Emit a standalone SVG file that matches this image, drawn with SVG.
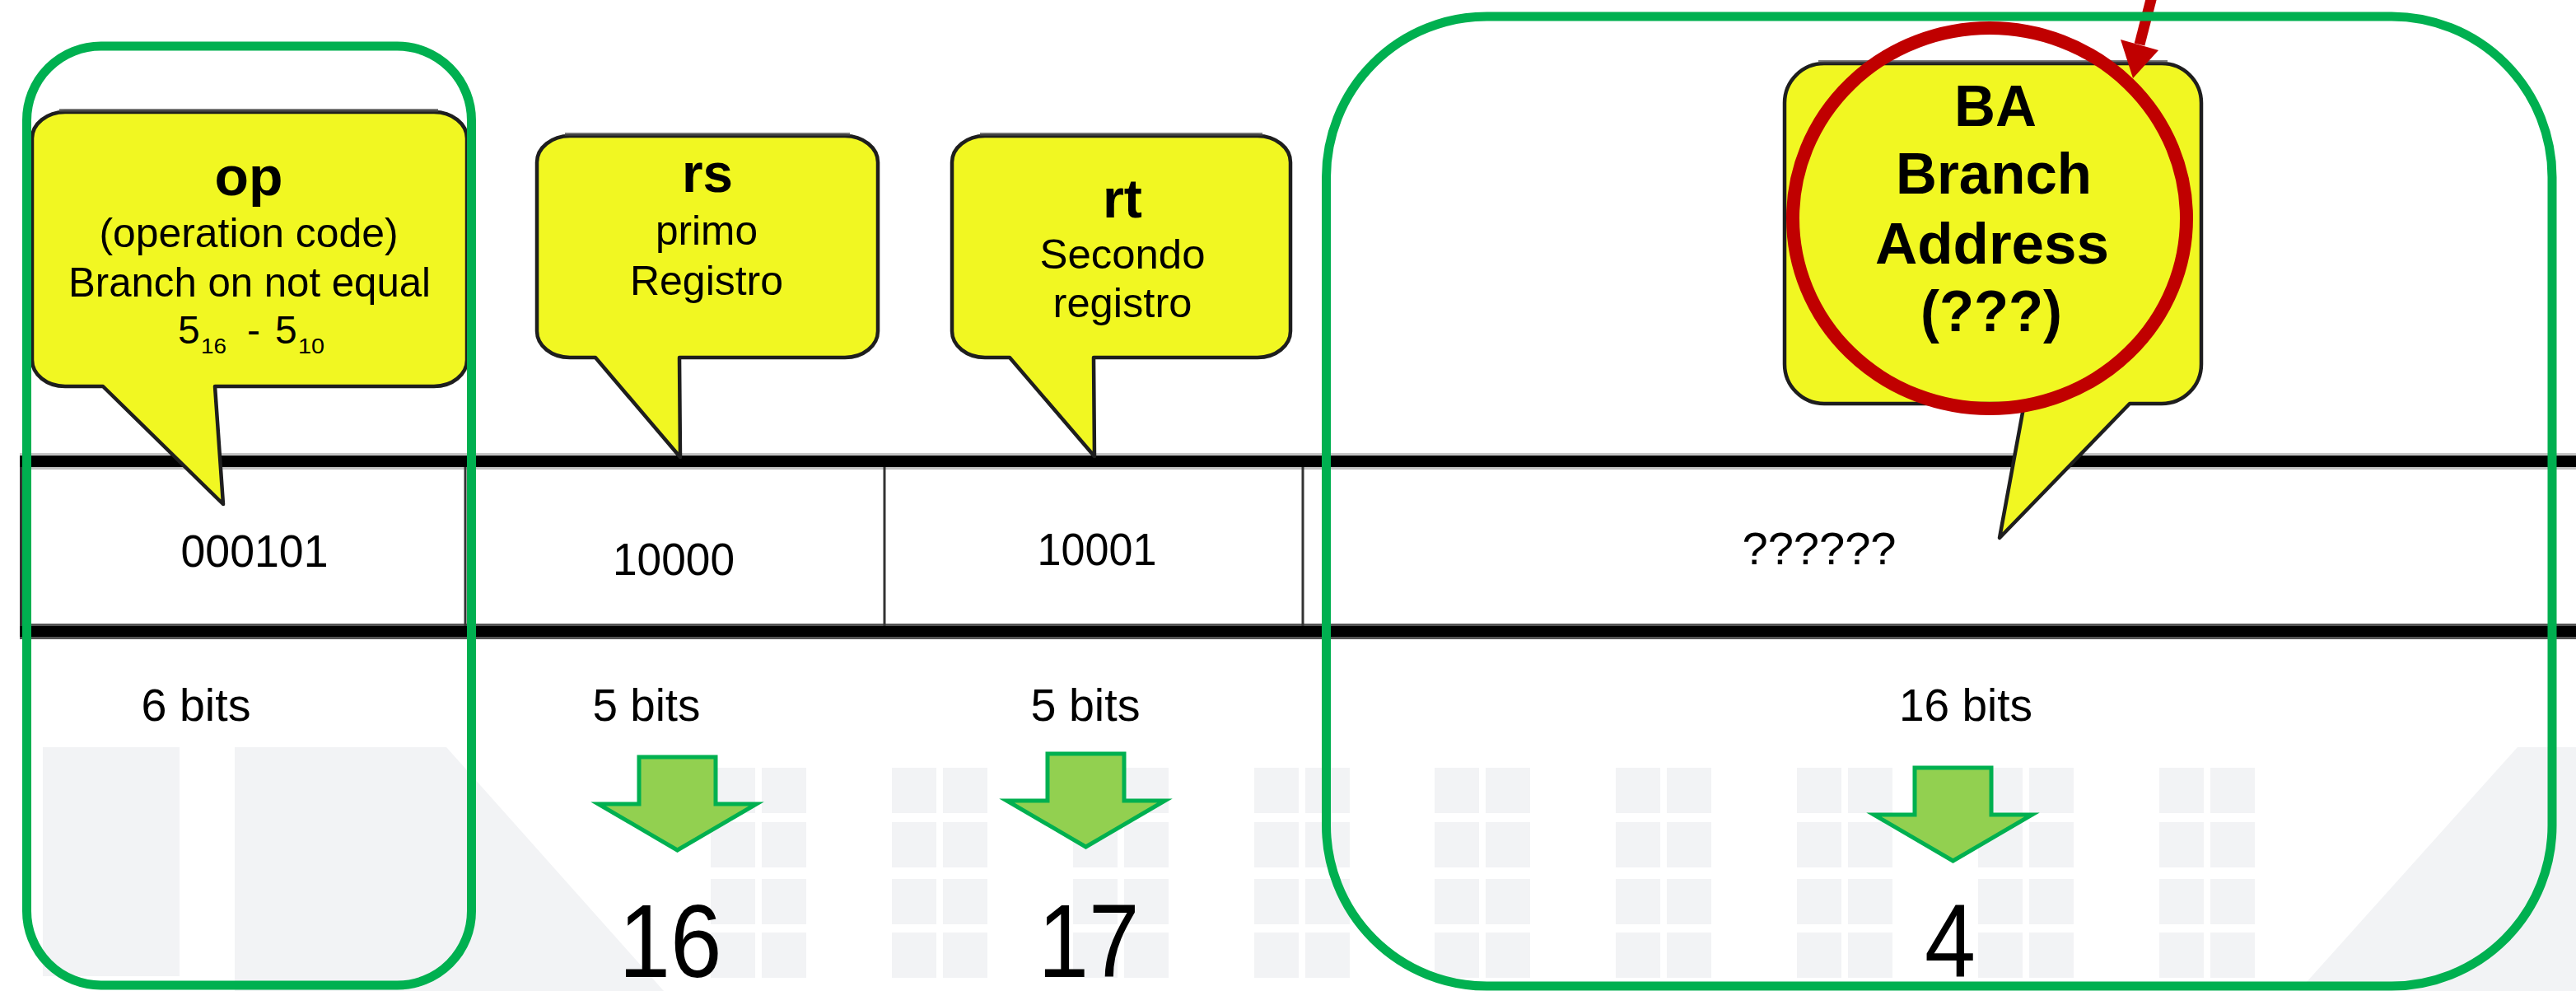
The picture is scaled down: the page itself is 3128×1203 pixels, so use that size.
<svg xmlns="http://www.w3.org/2000/svg" xmlns:xlink="http://www.w3.org/1999/xlink" width="3128" height="1203" viewBox="0 0 3128 1203">
<style>
text{font-family:"Liberation Sans",Arial,sans-serif;fill:#000}
.t{font-size:56px;text-anchor:middle}
.big{font-size:127px;text-anchor:middle}
.cb{font-size:50px;text-anchor:middle}
.hb{font-size:66px;font-weight:bold;text-anchor:middle}
.ba{font-size:71px;font-weight:bold;text-anchor:middle}
.bg{fill:#F2F3F5}
.callout{fill:#F1F722;stroke:#1E1E1E;stroke-width:4.5;stroke-linejoin:round}
.shadow{fill:none;stroke:#444;stroke-width:4;opacity:0.7}
.garrow{fill:#92D050;stroke:#00B050;stroke-width:5}
.gbox{fill:none;stroke:#00B050;stroke-width:11}
.div{stroke:#333;stroke-width:3}
</style>
<defs>
<g id="sq">
<rect class="bg" x="0" y="932" width="54" height="55"/><rect class="bg" x="62" y="932" width="54" height="55"/>
<rect class="bg" x="0" y="998" width="54" height="55"/><rect class="bg" x="62" y="998" width="54" height="55"/>
<rect class="bg" x="0" y="1067" width="54" height="55"/><rect class="bg" x="62" y="1067" width="54" height="55"/>
<rect class="bg" x="0" y="1132" width="54" height="55"/><rect class="bg" x="62" y="1132" width="54" height="55"/>
</g>
<path id="arr" class="garrow" d="M-46.5,0 H46.5 V57 H96 L0,113 L-96,57 H-46.5 Z"/>
</defs>
<rect width="3128" height="1203" fill="#fff"/>
<g id="background">
<rect class="bg" x="52" y="907" width="166" height="278"/>
<polygon class="bg" points="285,907 542,907 806,1203 285,1203"/>
<polygon class="bg" points="3057,907 3128,907 3128,1203 2791,1203"/>
<use xlink:href="#sq" x="863"/><use xlink:href="#sq" x="1083"/><use xlink:href="#sq" x="1303"/>
<use xlink:href="#sq" x="1523"/><use xlink:href="#sq" x="1742"/><use xlink:href="#sq" x="1962"/>
<use xlink:href="#sq" x="2182"/><use xlink:href="#sq" x="2402"/><use xlink:href="#sq" x="2622"/>
</g>
<g id="table">
<rect x="24" y="550" width="3104" height="3" fill="#C4C4C4"/>
<rect x="24" y="567" width="3104" height="3" fill="#C4C4C4"/>
<rect x="24" y="757" width="3104" height="3" fill="#555"/>
<rect x="24" y="773" width="3104" height="3" fill="#555"/>
<line x1="565" y1="567" x2="565" y2="760" class="div"/>
<line x1="1074" y1="567" x2="1074" y2="760" class="div"/>
<line x1="1582" y1="567" x2="1582" y2="760" class="div"/>
<line x1="26" y1="553" x2="26" y2="773" stroke="#333" stroke-width="4"/>
<rect x="24" y="553" width="3104" height="14" fill="#000"/>
<rect x="24" y="760" width="3104" height="13" fill="#000"/>
<text class="t" x="309" y="688" textLength="179" lengthAdjust="spacingAndGlyphs">000101</text>
<text class="t" x="818" y="698" textLength="148" lengthAdjust="spacingAndGlyphs">10000</text>
<text class="t" x="1332" y="686" textLength="145" lengthAdjust="spacingAndGlyphs">10001</text>
<text class="t" x="2209" y="685" textLength="187" lengthAdjust="spacingAndGlyphs">??????</text>
<text class="t" x="238" y="875" textLength="133" lengthAdjust="spacingAndGlyphs">6 bits</text>
<text class="t" x="785" y="875" textLength="131" lengthAdjust="spacingAndGlyphs">5 bits</text>
<text class="t" x="1318" y="875" textLength="133" lengthAdjust="spacingAndGlyphs">5 bits</text>
<text class="t" x="2387" y="875" textLength="162" lengthAdjust="spacingAndGlyphs">16 bits</text>
</g>
<g id="results">
<use xlink:href="#arr" x="822.5" y="919"/>
<use xlink:href="#arr" x="1318.5" y="915"/>
<use xlink:href="#arr" x="2371.5" y="932"/>
<text class="big" x="814" y="1186" textLength="125" lengthAdjust="spacingAndGlyphs">16</text>
<text class="big" x="1322" y="1186" textLength="123" lengthAdjust="spacingAndGlyphs">17</text>
<text class="big" x="2368" y="1186" textLength="62" lengthAdjust="spacingAndGlyphs">4</text>
</g>
<g id="callout-op">
<path class="callout" d="M79,136 H527 A40,32 0 0 1 567,168 V437 A40,32 0 0 1 527,469 H261 L271,612 L125,469 H79 A40,32 0 0 1 39,437 V168 A40,32 0 0 1 79,136 Z"/>
<path class="shadow" d="M72,134 H532"/>
<text class="hb" x="302" y="237" textLength="83" lengthAdjust="spacingAndGlyphs">op</text>
<text class="cb" x="302" y="300" textLength="363" lengthAdjust="spacingAndGlyphs">(operation code)</text>
<text class="cb" x="303" y="360" textLength="440" lengthAdjust="spacingAndGlyphs">Branch on not equal</text>
<text style="font-size:48px" x="216" y="417">5</text>
<text style="font-size:26px" x="244" y="429" textLength="31" lengthAdjust="spacingAndGlyphs">16</text>
<text style="font-size:48px" x="300" y="417">-</text>
<text style="font-size:48px" x="334" y="417">5</text>
<text style="font-size:26px" x="362" y="429" textLength="32" lengthAdjust="spacingAndGlyphs">10</text>
</g>
<g id="callout-rs">
<path class="callout" d="M692,165 H1026 A40,32 0 0 1 1066,197 V402 A40,32 0 0 1 1026,434 H825 L826,555 L723,434 H692 A40,32 0 0 1 652,402 V197 A40,32 0 0 1 692,165 Z"/>
<path class="shadow" d="M686,163 H1032"/>
<text class="hb" x="859" y="233" textLength="62" lengthAdjust="spacingAndGlyphs">rs</text>
<text class="cb" x="858" y="297" textLength="124" lengthAdjust="spacingAndGlyphs">primo</text>
<text class="cb" x="858" y="358" textLength="186" lengthAdjust="spacingAndGlyphs">Registro</text>
</g>
<g id="callout-rt">
<path class="callout" d="M1196,165 H1527 A40,32 0 0 1 1567,197 V402 A40,32 0 0 1 1527,434 H1328 L1329,554 L1226,434 H1196 A40,32 0 0 1 1156,402 V197 A40,32 0 0 1 1196,165 Z"/>
<path class="shadow" d="M1190,163 H1533"/>
<text class="hb" x="1363" y="264" textLength="48" lengthAdjust="spacingAndGlyphs">rt</text>
<text class="cb" x="1363" y="326" textLength="201" lengthAdjust="spacingAndGlyphs">Secondo</text>
<text class="cb" x="1363" y="385" textLength="169" lengthAdjust="spacingAndGlyphs">registro</text>
</g>
<g id="callout-ba">
<path class="callout" d="M2215,77 H2625 A48,48 0 0 1 2673,125 V442 A48,48 0 0 1 2625,490 H2586 L2428,653 L2458,490 H2215 A48,48 0 0 1 2167,442 V125 A48,48 0 0 1 2215,77 Z"/>
<path class="shadow" d="M2208,75 H2632"/>
<text class="ba" x="2423" y="153" textLength="100" lengthAdjust="spacingAndGlyphs">BA</text>
<text class="ba" x="2421" y="235" textLength="238" lengthAdjust="spacingAndGlyphs">Branch</text>
<text class="ba" x="2419" y="320" textLength="284" lengthAdjust="spacingAndGlyphs">Address</text>
<text class="ba" x="2418" y="402" textLength="172" lengthAdjust="spacingAndGlyphs">(???)</text>
</g>
<g id="highlight">
<ellipse cx="2416" cy="265" rx="239" ry="231" fill="none" stroke="#C00000" stroke-width="16"/>
</g>
<g id="connectors">
<line x1="2617" y1="-20" x2="2598" y2="54" stroke="#C00000" stroke-width="13"/>
<polygon points="2575,48 2621,61 2590,95" fill="#C00000"/>
</g>
<g id="group-op">
<rect class="gbox" x="32.5" y="56" width="540" height="1140" rx="90"/>
</g>
<g id="group-ba">
<rect class="gbox" x="1610.5" y="20" width="1488.5" height="1177" rx="195"/>
</g>
</svg>
